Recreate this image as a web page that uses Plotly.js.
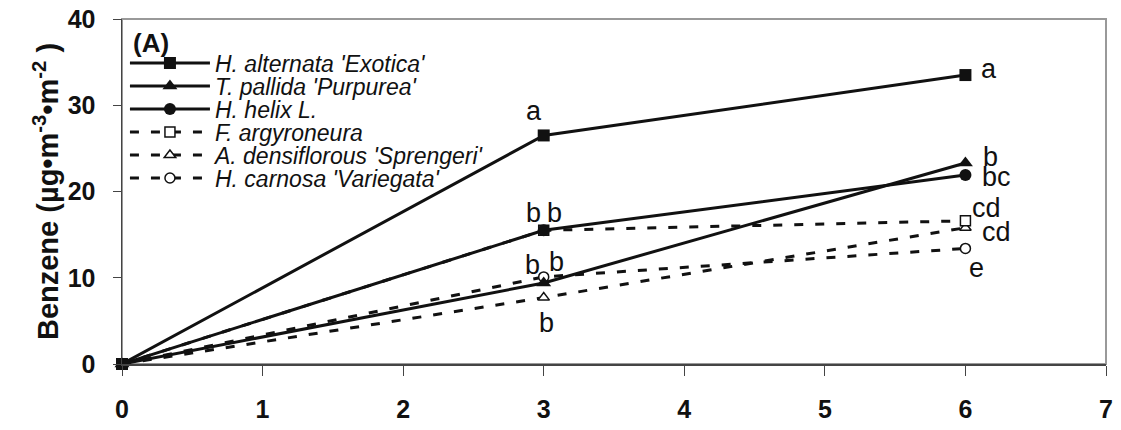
<!DOCTYPE html>
<html>
<head>
<meta charset="utf-8">
<script src="https://cdn.plot.ly/plotly-3.0.1.min.js"></script>
<style>html,body{margin:0;padding:0;background:#fff;}#chart{width:1121px;height:430px;}</style>
</head>
<body>
<div id="chart"></div>
<script>
// Data
const days = [0, 3, 6];
const seriesNames = ["H. alternata 'Exotica'", "T. pallida 'Purpurea'", "H. helix L.",
                     "F. argyroneura", "A. densiflorous 'Sprengeri'", "H. carnosa 'Variegata'"];
const hAlternata = [0, 26.5, 33.5];
const tPallida   = [0, 9.4, 23.3];
const hHelix     = [0, 15.5, 21.9];
const fArgyro    = [0, 15.5, 16.6];
const aDensi     = [0, 7.7, 15.8];
const hCarnosa   = [0, 10.1, 13.4];

// Significance letters
const letterText = ["a", "b", "b", "b", "b", "b", "a", "b", "bc", "cd", "cd", "e"];
const letterX    = [2.93, 2.93, 3.08, 2.92, 3.09, 3.02, 6.17, 6.18, 6.22, 6.15, 6.22, 6.08];
const letterY    = [29.3, 17.5, 17.5, 11.5, 11.8, 4.7, 34.2, 24.0, 21.7, 18.1, 15.3, 11.1];

const values = [hAlternata, tPallida, hHelix, fArgyro, aDensi, hCarnosa];
const symbols = ['square', 'triangle-up', 'circle', 'square', 'triangle-up', 'circle'];
const dashed = [false, false, false, true, true, true];

const FONT = 'Arial, "Liberation Sans", sans-serif';
const legendKeys = values.map((v, i) => i === 0 ? 'legend' : 'legend' + (i + 1));

const traces = values.map((v, i) => ({
  x: days, y: v, name: seriesNames[i], type: 'scatter', mode: 'lines+markers',
  legend: legendKeys[i],
  line: {color: '#111', width: 3, dash: dashed[i] ? '9px,12px' : 'solid'},
  marker: {
    symbol: symbols[i],
    size: dashed[i] ? 10 : (symbols[i] === 'triangle-up' ? 13 : 12),
    color: dashed[i] ? '#fff' : '#111',
    line: {color: '#111', width: dashed[i] ? 1.5 : 0}
  },
  cliponaxis: false
})).reverse();

const annotations = letterText.map((t, i) => ({
  x: letterX[i], y: letterY[i], xref: 'x', yref: 'y', text: t, showarrow: false,
  font: {family: FONT, size: 27, color: '#111'}
}));
annotations.push({
  xref: 'paper', yref: 'paper', x: 0.009, y: 0.93, xanchor: 'left', yanchor: 'middle',
  text: '(A)', showarrow: false,
  font: {family: FONT, size: 26, weight: 'bold', color: '#111'}
});

const tickFont = {family: FONT, size: 25, weight: 'bold', color: '#111'};

const layout = {
  width: 1121, height: 430,
  margin: {l: 122, r: 15, t: 19, b: 66},
  paper_bgcolor: '#fff', plot_bgcolor: '#fff',
  showlegend: true,
  xaxis: {
    range: [0, 7], dtick: 1, tick0: 0, showgrid: false, zeroline: false,
    showline: true, linecolor: '#444', linewidth: 1.5,
    ticks: 'outside', ticklen: 10, tickcolor: '#444', tickwidth: 1,
    ticklabelstandoff: 12, tickfont: tickFont
  },
  yaxis: {
    range: [0, 40], dtick: 10, tick0: 0, showgrid: false, zeroline: false,
    showline: true, linecolor: '#444', linewidth: 1.5,
    ticks: 'outside', ticklen: 8, tickcolor: '#444', tickwidth: 1,
    ticklabelstandoff: 12, tickfont: tickFont,
    title: {text: 'Benzene (µg•m<sup>-3</sup>•m<sup>-2</sup> )', standoff: 0,
            font: {family: FONT, size: 29, weight: 'bold', color: '#111'}}
  },
  shapes: [{
    type: 'rect', xref: 'paper', yref: 'paper', x0: 0, x1: 1, y0: 0, y1: 1,
    line: {color: '#999', width: 2}, layer: 'below'
  }],
  annotations: annotations
};

// one single-entry legend per series, stacked with tight spacing
const plotH = 430 - 19 - 66;
legendKeys.forEach((k, i) => {
  const cy = 63 + i * 23; // pixel centre of the entry
  layout[k] = {
    x: 0.003, y: (430 - 66 - cy) / plotH, xanchor: 'left', yanchor: 'middle',
    bgcolor: 'rgba(0,0,0,0)', borderwidth: 0,
    font: {family: FONT, size: 23, style: 'italic', color: '#111'},
    itemwidth: 80
  };
});

Plotly.newPlot('chart', traces, layout, {displayModeBar: false, staticPlot: true});
</script>
</body>
</html>
